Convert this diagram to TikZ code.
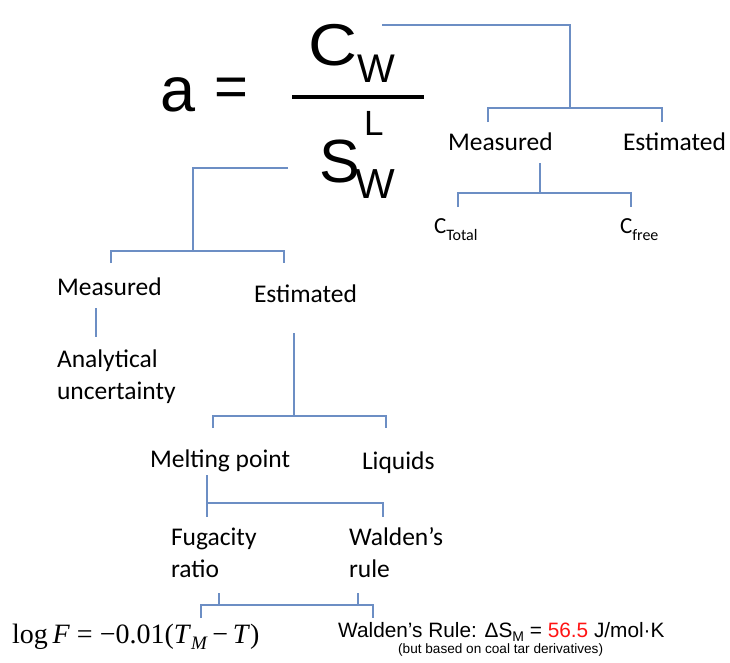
\documentclass[tikz,border=0pt]{standalone}
\usepackage{fontspec}
\setmainfont{Carlito}
\newfontfamily\arialf{Liberation Sans}
\newfontfamily\timesf{Liberation Serif}
\definecolor{linec}{RGB}{108,142,196}
\definecolor{redv}{RGB}{255,20,20}
\begin{document}
\begin{tikzpicture}[x=1pt,y=-1pt,
  conn/.style={draw=linec,line width=1.5pt},
  lbl/.style={anchor=base west,inner sep=0pt,outer sep=0pt,align=left,font=\fontsize{25.5}{31.5}\selectfont},
  big/.style={anchor=base west,inner sep=0pt,outer sep=0pt,font=\arialf}]
\useasboundingbox (0,0) rectangle (730,662);
\fill[white] (0,0) rectangle (730,662);

% big formula
\node[big,font=\arialf\fontsize{63}{64}\selectfont] (a) at (160,111) {a};
\node[big,font=\arialf\fontsize{58}{60}\selectfont] (eq) at (214,106) {=};
\draw[line width=4pt] (292,97) -- (424,97);
\node[big,font=\arialf\fontsize{59}{60}\selectfont] (C) at (308,65) {\scalebox{1.15}[1]{C}};
\node[big,font=\arialf\fontsize{40}{42}\selectfont] (Cw) at (357,82) {W};
\node[big,font=\arialf\fontsize{61}{64}\selectfont] (S) at (319,182) {S};
\node[big,font=\arialf\fontsize{35}{38}\selectfont] (SL) at (364,135) {L};
\node[big,font=\arialf\fontsize{42}{44}\selectfont] (Sw) at (355,198) {W};

% right tree
\node[lbl] (mR) at (448,150) {Measured};
\node[lbl] (eR) at (623,150) {Estimated};
\node[lbl,font=\fontsize{23}{26}\selectfont] (ct) at (434,233) {C\raisebox{-7pt}{\fontsize{16}{18}\selectfont Total}};
\node[lbl,font=\fontsize{23}{26}\selectfont] (cf) at (620,233) {C\raisebox{-7pt}{\fontsize{16}{18}\selectfont free}};

% left tree (base anchor = baseline of last line)
\node[lbl] (mL) at (57,295) {Measured};
\node[lbl] (eL) at (254,302) {Estimated};
\node[lbl] (an) at (57,399) {Analytical\\uncertainty};
\node[lbl] (mp) at (150,467) {Melting point};
\node[lbl] (liq) at (362,469) {Liquids};
\node[lbl] (fr) at (171,577) {Fugacity\\ratio};
\node[lbl] (wr) at (349,577) {Walden’s\\rule};

% bottom formulas
\node[anchor=base west,inner sep=0pt,font=\timesf\fontsize{28}{30}\selectfont] (lf) at (12,643)
  {log\,\textit{F} = −0.01(\textit{T}\raisebox{-6pt}{\fontsize{19}{20}\selectfont\textit{M}}\,−\,\textit{T})};
\node[anchor=base west,inner sep=0pt,font=\arialf\fontsize{20.8}{22}\selectfont] (wl) at (338,637)
  {Walden’s Rule: ΔS\raisebox{-4pt}{\fontsize{14}{15}\selectfont M} = \textcolor{redv}{56.5} J/mol·K};
\node[anchor=base west,inner sep=0pt,font=\arialf\fontsize{13.6}{14}\selectfont] (wn) at (398,653)
  {(but based on coal tar derivatives)};

% connectors
\coordinate (t0) at (382,25); \coordinate (t1) at (570,25); \coordinate (t2) at (570,108);
\coordinate (t3) at (488,108); \coordinate (t4) at (662,108);
\coordinate (t3b) at (488,122); \coordinate (t4b) at (662,122);
\draw[conn] (t0) -- (t1) -- (t2);
\draw[conn] (t3b) -- (t3) -- (t4) -- (t4b);

\coordinate (m0) at (540,163); \coordinate (m1) at (540,193);
\coordinate (m2) at (458,193); \coordinate (m3) at (631,193);
\coordinate (m2b) at (458,207); \coordinate (m3b) at (631,207);
\draw[conn] (m0) -- (m1);
\draw[conn] (m2b) -- (m2) -- (m3) -- (m3b);

\coordinate (s0) at (288,168); \coordinate (s1) at (193,168); \coordinate (s2) at (193,251);
\coordinate (s3) at (111,251); \coordinate (s4) at (284,251);
\coordinate (s3b) at (111,263); \coordinate (s4b) at (284,263);
\draw[conn] (s0) -- (s1) -- (s2);
\draw[conn] (s3b) -- (s3) -- (s4) -- (s4b);

\coordinate (a0) at (96,308); \coordinate (a1) at (96,337);
\draw[conn] (a0) -- (a1);

\coordinate (e0) at (294,333); \coordinate (e1) at (294,416);
\coordinate (e2) at (213,416); \coordinate (e3) at (386,416);
\coordinate (e2b) at (213,428); \coordinate (e3b) at (386,428);
\draw[conn] (e0) -- (e1);
\draw[conn] (e2b) -- (e2) -- (e3) -- (e3b);

\coordinate (p0) at (207,475); \coordinate (p1) at (207,517);
\coordinate (p2) at (207,503); \coordinate (p3) at (383,503); \coordinate (p3b) at (383,517);
\draw[conn] (p0) -- (p1);
\draw[conn] (p2) -- (p3) -- (p3b);

\coordinate (f0) at (219,593); \coordinate (f1) at (219,605);
\coordinate (w0) at (358,593); \coordinate (w1) at (358,605);
\coordinate (b0) at (201,605); \coordinate (b1) at (373,605);
\coordinate (b0b) at (201,618); \coordinate (b1b) at (373,618);
\draw[conn] (f0) -- (f1);
\draw[conn] (w0) -- (w1);
\draw[conn] (b0b) -- (b0) -- (b1) -- (b1b);
\end{tikzpicture}
\end{document}
